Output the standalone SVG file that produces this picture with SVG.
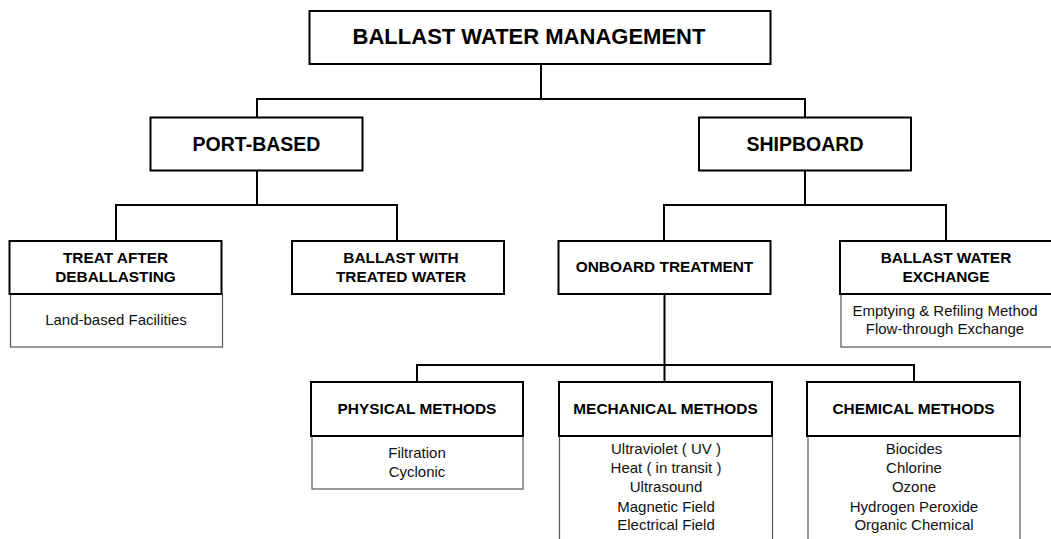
<svg xmlns="http://www.w3.org/2000/svg" width="1051" height="539" viewBox="0 0 1051 539">
<style>
.box{fill:#fff;stroke:#000;stroke-width:2}
.sub{fill:#fff;stroke:#555;stroke-width:1.2}
.con{fill:none;stroke:#000;stroke-width:2}
text{font-family:"Liberation Sans",Arial,sans-serif;fill:#000;text-anchor:middle}
.t1{font-size:22px;font-weight:bold}
.t2{font-size:19.5px;font-weight:bold}
.t3{font-size:15.4px;font-weight:bold}
.t4{font-size:15px;fill:#111}
</style>
<rect width="1051" height="539" fill="#fff"/>
<g id="connectors">
<path class="con" d="M541 64V99M257 117.5V99H805V117.5"/>
<path class="con" d="M257 170.5V205M116 241V205H397V241"/>
<path class="con" d="M805 170.5V205M664 241V205H946V241"/>
<path class="con" d="M664.5 294V382M417 382V365H914V382"/>
</g>
<g id="ballast-water-management">
<rect class="box" x="309.5" y="11" width="461" height="53"/>
<text class="t1" x="529" y="44">BALLAST WATER MANAGEMENT</text>
</g>
<g id="port-based">
<rect class="box" x="150.5" y="117.5" width="212" height="53"/>
<text class="t2" x="256.5" y="150.5">PORT-BASED</text>
</g>
<g id="shipboard">
<rect class="box" x="699" y="117.5" width="212" height="53"/>
<text class="t2" x="805" y="150.5">SHIPBOARD</text>
</g>
<g id="treat-after-deballasting">
<rect class="sub" x="10.5" y="294" width="212" height="53"/>
<rect class="box" x="9.5" y="241" width="212" height="53"/>
<text class="t3" x="115.5" y="262.7">TREAT AFTER</text>
<text class="t3" x="115.5" y="281.7">DEBALLASTING</text>
<text class="t4" x="116" y="324.5">Land-based Facilities</text>
</g>
<g id="ballast-with-treated-water">
<rect class="box" x="292" y="241" width="212" height="53"/>
<text class="t3" x="401" y="262.7">BALLAST WITH</text>
<text class="t3" x="401" y="281.7">TREATED WATER</text>
</g>
<g id="onboard-treatment">
<rect class="box" x="558.5" y="241" width="212" height="53"/>
<text class="t3" x="664.5" y="272.3">ONBOARD TREATMENT</text>
</g>
<g id="ballast-water-exchange">
<rect class="sub" x="841" y="294" width="212" height="53"/>
<rect class="box" x="840" y="241" width="212" height="53"/>
<text class="t3" x="946" y="262.7">BALLAST WATER</text>
<text class="t3" x="946" y="281.7">EXCHANGE</text>
<text class="t4" x="945" y="316">Emptying &amp; Refiling Method</text>
<text class="t4" x="945" y="334.3">Flow-through Exchange</text>
</g>
<g id="physical-methods">
<rect class="sub" x="312" y="436" width="211" height="53"/>
<rect class="box" x="311" y="382" width="212" height="54"/>
<text class="t3" x="417" y="413.5">PHYSICAL METHODS</text>
<text class="t4" x="417" y="458.3">Filtration</text>
<text class="t4" x="417" y="476.8">Cyclonic</text>
</g>
<g id="mechanical-methods">
<rect class="sub" x="559.5" y="436" width="213" height="110"/>
<rect class="box" x="559" y="382" width="213" height="54"/>
<text class="t3" x="665.5" y="413.5">MECHANICAL METHODS</text>
<text class="t4" x="666" y="454.3">Ultraviolet ( UV )</text>
<text class="t4" x="666" y="473.3">Heat ( in transit )</text>
<text class="t4" x="666" y="492.3">Ultrasound</text>
<text class="t4" x="666" y="511.5">Magnetic Field</text>
<text class="t4" x="666" y="530.3">Electrical Field</text>
</g>
<g id="chemical-methods">
<rect class="sub" x="808" y="436" width="212" height="110"/>
<rect class="box" x="807" y="382" width="213" height="54"/>
<text class="t3" x="913.5" y="413.5">CHEMICAL METHODS</text>
<text class="t4" x="914" y="454.3">Biocides</text>
<text class="t4" x="914" y="473.3">Chlorine</text>
<text class="t4" x="914" y="492.3">Ozone</text>
<text class="t4" x="914" y="511.5">Hydrogen Peroxide</text>
<text class="t4" x="914" y="530.3">Organic Chemical</text>
</g>
</svg>
